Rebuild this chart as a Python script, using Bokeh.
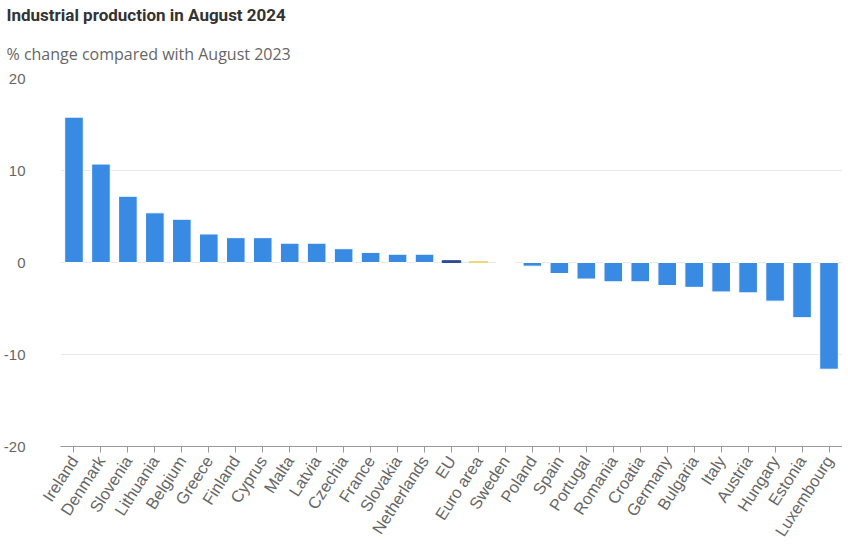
import math
from bokeh.plotting import figure
from bokeh.models import ColumnDataSource, FixedTicker, Title
from bokeh.embed import file_html
from bokeh.resources import INLINE

countries = ["Ireland", "Denmark", "Slovenia", "Lithuania", "Belgium", "Greece", "Finland",
             "Cyprus", "Malta", "Latvia", "Czechia", "France", "Slovakia", "Netherlands",
             "EU", "Euro area", "Sweden", "Poland", "Spain", "Portugal", "Romania", "Croatia",
             "Germany", "Bulgaria", "Italy", "Austria", "Hungary", "Estonia", "Luxembourg"]
change = [15.8, 10.7, 7.2, 5.4, 4.7, 3.1, 2.7, 2.7, 2.1, 2.1, 1.5, 1.1, 0.9, 0.9,
          0.2, 0.1, 0.0, -0.4, -1.2, -1.8, -2.1, -2.1, -2.5, -2.7, -3.2, -3.3, -4.2, -6.0, -11.6]
y_ticks = [-20, -10, 0, 10, 20]
title_text = "Industrial production in August 2024"
subtitle_text = "% change compared with August 2023"

FONT = "Liberation Sans"
ANGLE = math.radians(57)
special = {"EU": "#2f4b96", "Euro area": "#f0d67a"}
colors = [special.get(c, "#388ae2") for c in countries]
edges = [special.get(c, "#ffffff") for c in countries]

src = ColumnDataSource(dict(cat=countries, val=change, color=colors, edge=edges))

p = figure(x_range=countries, y_range=(-20, 20), frame_width=782, frame_height=368,
           output_backend="svg", toolbar_location=None,
           min_border_left=50, min_border_right=0, min_border_bottom=0, min_border_top=0)

p.vbar(x="cat", top="val", bottom=0, width=0.69, source=src,
       fill_color="color", line_color="edge", line_width=1)

p.outline_line_color = None
p.xgrid.grid_line_color = None
p.ygrid.grid_line_color = "#e8e8ef"
p.ygrid.ticker = FixedTicker(ticks=y_ticks)

ya = p.yaxis[0]
ya.ticker = FixedTicker(ticks=y_ticks)
ya.axis_line_color = None
ya.major_tick_line_color = None
ya.minor_tick_line_color = None
ya.major_label_standoff = 29
ya.major_label_text_font = FONT
ya.major_label_text_font_size = "15px"
ya.major_label_text_color = "#666666"
ya.major_label_overrides = {t: str(t) for t in y_ticks}

xa = p.xaxis[0]
xa.axis_line_color = "#999999"
xa.major_tick_line_color = "#999999"
xa.major_tick_out = 6
xa.major_tick_in = 0
xa.major_label_standoff = 5
xa.major_label_orientation = ANGLE
xa.major_label_text_font = FONT
xa.major_label_text_font_size = "16.5px"
xa.major_label_text_color = "#666666"

sub = Title(text=subtitle_text, align="left", offset=-54, vertical_align="top",
            text_font="Open Sans", text_font_size="16px", text_font_style="normal",
            text_color="#666666", standoff=24)
p.add_layout(sub, "above")
ttl = Title(text=title_text, align="left", offset=-54, vertical_align="top",
            text_font="Roboto", text_font_size="17px", text_font_style="bold",
            text_color="#333333", standoff=8)
p.add_layout(ttl, "above")

open("out.html", "w").write(file_html(p, INLINE))
